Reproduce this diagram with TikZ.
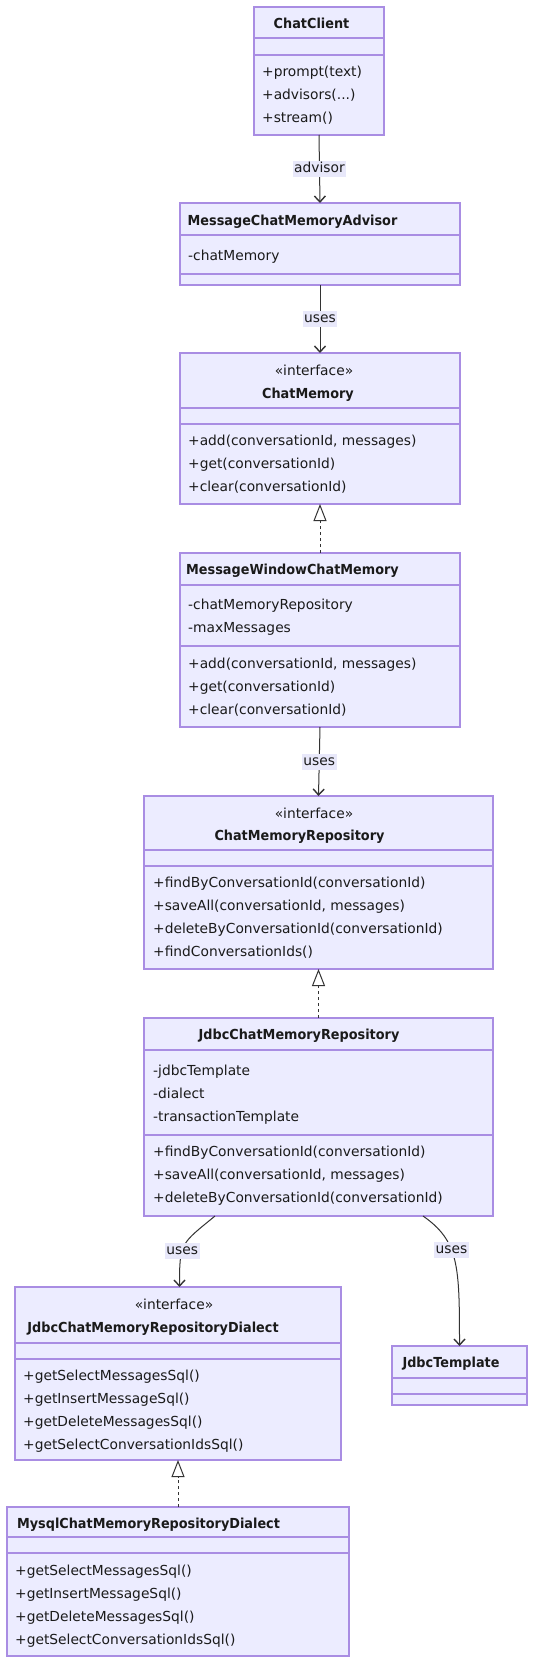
\documentclass[tikz,border=0pt]{standalone}
\usepackage{fontspec}
\setmainfont{DejaVu Sans}[BoldFeatures={FakeStretch=0.93}]
\usetikzlibrary{arrows.meta, positioning}

\definecolor{umlfill}{HTML}{ECECFF}
\definecolor{umlborder}{HTML}{A98DE3}
\definecolor{edgeline}{HTML}{333333}
\definecolor{labelfill}{HTML}{E8E8FA}
\definecolor{umltext}{HTML}{1A1A1A}

\newcommand{\umlfont}{\fontsize{13.8}{17}\selectfont}

\tikzset{
    classbox/.style={draw=umlborder, fill=umlfill, line width=1.5pt, inner sep=0pt, outer sep=0pt, anchor=north west},
    divider/.style={draw=umlborder, line width=1.5pt},
    member/.style={anchor=west, inner sep=0pt, text height=10pt, text depth=3pt, text=umltext, font=\umlfont},
    classname/.style={member, anchor=center, font=\umlfont\bfseries},
    stereo/.style={member, anchor=center},
    assoc/.style={draw=edgeline, line width=1pt, -{Straight Barb[length=6pt, width=11pt, line width=1.4pt]}},
    realize/.style={draw=edgeline, line width=1pt, dash pattern=on 3pt off 3pt, -{Triangle[open, length=17pt, width=13pt, fill=white]}},
    edgelabel/.style={fill=labelfill, inner sep=1.5pt, text height=10pt, text depth=3pt, text=umltext, font=\umlfont}
}

\begin{document}
\begin{tikzpicture}[x=1pt, y=-1pt]
    \useasboundingbox[fill=white] (0,0) rectangle (535,1665);

    % ChatClient
    \node[classbox, minimum width=130pt, minimum height=128pt] (cc) at (254,7) {};
    \draw[divider] (cc.west |- 0,38) -- (cc.east |- 0,38);
    \draw[divider] (cc.west |- 0,55) -- (cc.east |- 0,55);
    \node[classname] (cc-name) at (311.5,25) {ChatClient};
    \node[member] (cc-m1) at (262,73) {+prompt(text)};
    \node[member] (cc-m2) at (262,96) {+advisors(...)};
    \node[member] (cc-m3) at (262,119) {+stream()};

    % MessageChatMemoryAdvisor
    \node[classbox, minimum width=280pt, minimum height=82pt] (mcma) at (180,203) {};
    \draw[divider] (mcma.west |- 0,235) -- (mcma.east |- 0,235);
    \draw[divider] (mcma.west |- 0,274) -- (mcma.east |- 0,274);
    \node[classname] (mcma-name) at (292.5,222) {MessageChatMemoryAdvisor};
    \node[member] (mcma-a1) at (188,257) {-chatMemory};

    % ChatMemory
    \node[classbox, minimum width=280pt, minimum height=151pt] (cm) at (180,353) {};
    \draw[divider] (cm.west |- 0,408) -- (cm.east |- 0,408);
    \draw[divider] (cm.west |- 0,424) -- (cm.east |- 0,424);
    \node[stereo] (cm-st) at (314,372) {«interface»};
    \node[classname] (cm-name) at (308,395) {ChatMemory};
    \node[member] (cm-m1) at (188,442) {+add(conversationId, messages)};
    \node[member] (cm-m2) at (188,465) {+get(conversationId)};
    \node[member] (cm-m3) at (188,488) {+clear(conversationId)};

    % MessageWindowChatMemory
    \node[classbox, minimum width=280pt, minimum height=174pt] (mwcm) at (180,553) {};
    \draw[divider] (mwcm.west |- 0,585) -- (mwcm.east |- 0,585);
    \draw[divider] (mwcm.west |- 0,646) -- (mwcm.east |- 0,646);
    \node[classname] (mwcm-name) at (292.5,571) {MessageWindowChatMemory};
    \node[member] (mwcm-a1) at (188,606) {-chatMemoryRepository};
    \node[member] (mwcm-a2) at (188,629) {-maxMessages};
    \node[member] (mwcm-m1) at (188,665) {+add(conversationId, messages)};
    \node[member] (mwcm-m2) at (188,688) {+get(conversationId)};
    \node[member] (mwcm-m3) at (188,711) {+clear(conversationId)};

    % ChatMemoryRepository
    \node[classbox, minimum width=349pt, minimum height=173pt] (cmr) at (144,796) {};
    \draw[divider] (cmr.west |- 0,850) -- (cmr.east |- 0,850);
    \draw[divider] (cmr.west |- 0,866) -- (cmr.east |- 0,866);
    \node[stereo] (cmr-st) at (314,815) {«interface»};
    \node[classname] (cmr-name) at (299.5,837) {ChatMemoryRepository};
    \node[member] (cmr-m1) at (153,884) {+findByConversationId(conversationId)};
    \node[member] (cmr-m2) at (153,907) {+saveAll(conversationId, messages)};
    \node[member] (cmr-m3) at (153,930) {+deleteByConversationId(conversationId)};
    \node[member] (cmr-m4) at (153,953) {+findConversationIds()};

    % JdbcChatMemoryRepository
    \node[classbox, minimum width=349pt, minimum height=198pt] (jcmr) at (144,1018) {};
    \draw[divider] (jcmr.west |- 0,1050) -- (jcmr.east |- 0,1050);
    \draw[divider] (jcmr.west |- 0,1135) -- (jcmr.east |- 0,1135);
    \node[classname] (jcmr-name) at (299,1036) {JdbcChatMemoryRepository};
    \node[member] (jcmr-a1) at (153,1072) {-jdbcTemplate};
    \node[member] (jcmr-a2) at (153,1095) {-dialect};
    \node[member] (jcmr-a3) at (153,1118) {-transactionTemplate};
    \node[member] (jcmr-m1) at (153,1153) {+findByConversationId(conversationId)};
    \node[member] (jcmr-m2) at (153,1176) {+saveAll(conversationId, messages)};
    \node[member] (jcmr-m3) at (153,1199) {+deleteByConversationId(conversationId)};

    % JdbcChatMemoryRepositoryDialect
    \node[classbox, minimum width=326pt, minimum height=173pt] (dial) at (15,1287) {};
    \draw[divider] (dial.west |- 0,1343) -- (dial.east |- 0,1343);
    \draw[divider] (dial.west |- 0,1359) -- (dial.east |- 0,1359);
    \node[stereo] (dial-st) at (174,1306) {«interface»};
    \node[classname] (dial-name) at (153,1329) {JdbcChatMemoryRepositoryDialect};
    \node[member] (dial-m1) at (23,1377) {+getSelectMessagesSql()};
    \node[member] (dial-m2) at (23,1400) {+getInsertMessageSql()};
    \node[member] (dial-m3) at (23,1423) {+getDeleteMessagesSql()};
    \node[member] (dial-m4) at (23,1446) {+getSelectConversationIdsSql()};

    % JdbcTemplate
    \node[classbox, minimum width=135pt, minimum height=59pt] (jt) at (392,1346) {};
    \draw[divider] (jt.west |- 0,1378) -- (jt.east |- 0,1378);
    \draw[divider] (jt.west |- 0,1394) -- (jt.east |- 0,1394);
    \node[classname] (jt-name) at (451,1364) {JdbcTemplate};

    % MysqlChatMemoryRepositoryDialect
    \node[classbox, minimum width=342pt, minimum height=149pt] (mysql) at (7,1507) {};
    \draw[divider] (mysql.west |- 0,1537) -- (mysql.east |- 0,1537);
    \draw[divider] (mysql.west |- 0,1553) -- (mysql.east |- 0,1553);
    \node[classname] (mysql-name) at (148.5,1525) {MysqlChatMemoryRepositoryDialect};
    \node[member] (mysql-m1) at (15,1572) {+getSelectMessagesSql()};
    \node[member] (mysql-m2) at (15,1595) {+getInsertMessageSql()};
    \node[member] (mysql-m3) at (15,1618) {+getDeleteMessagesSql()};
    \node[member] (mysql-m4) at (15,1641) {+getSelectConversationIdsSql()};

    % relations
    \draw[assoc] (cc.south) -- node[edgelabel] {advisor} (mcma.north);
    \draw[assoc] (mcma.south) -- node[edgelabel] {uses} (cm.north);
    \draw[realize] (mwcm.north) -- (cm.south);
    \draw[assoc] (mwcm.south) -- node[edgelabel] {uses} (cmr.north);
    \draw[realize] (jcmr.north) -- (cmr.south);
    \draw[assoc] ([xshift=-103.5pt]jcmr.south) .. controls +(-34,28) and +(0,-45) .. node[edgelabel, pos=0.6] {uses} ([xshift=1.5pt]dial.north);
    \draw[assoc] ([xshift=104.5pt]jcmr.south) .. controls +(36,25) and +(0,-80) .. node[edgelabel, pos=0.4] {uses} (jt.north);
    \draw[realize] (mysql.north) -- (dial.south);
\end{tikzpicture}
\end{document}
